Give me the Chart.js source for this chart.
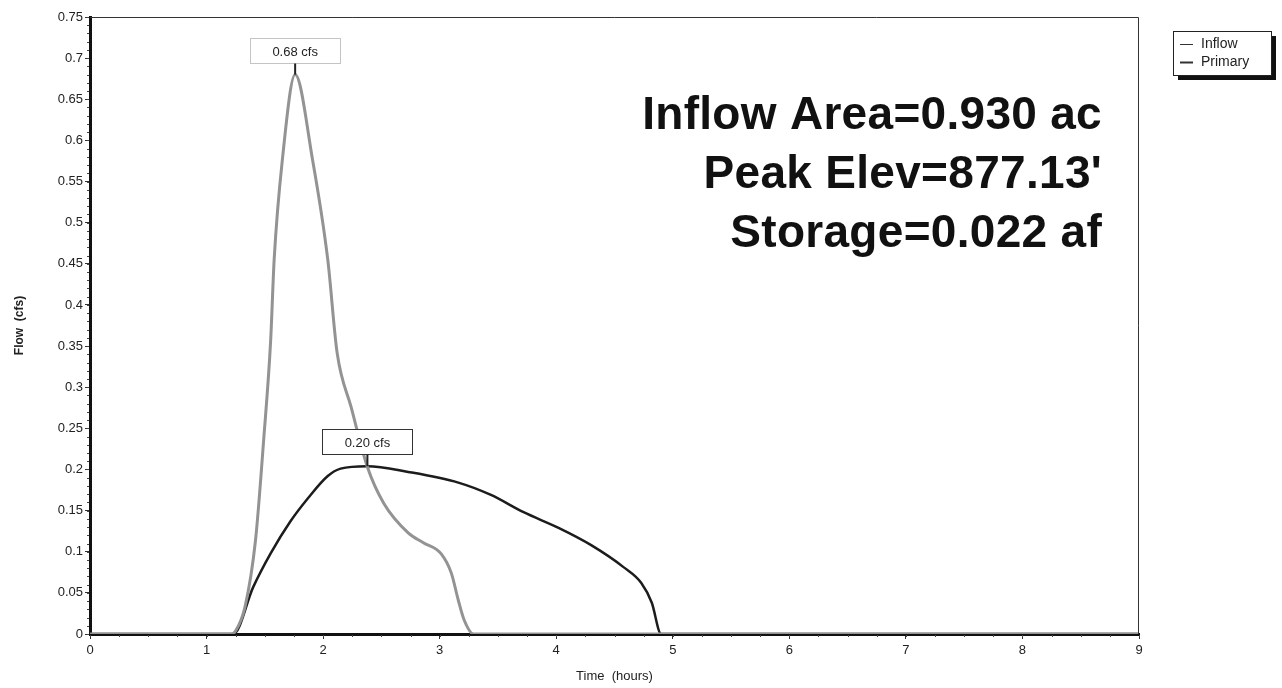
<!DOCTYPE html>
<html lang="en">
<head>
  <meta charset="UTF-8">
  <title>Hydrograph</title>
  <script src="https://cdn.jsdelivr.net/npm/chart.js"></script>
  <style>
    html, body { margin: 0; padding: 0; background: #fff; }
    #wrap { position: relative; width: 1282px; height: 688px; }
  </style>
</head>
<body>
  <div id="wrap"><canvas id="hydro" width="1282" height="688"></canvas></div>

  <script>
    // values (hours, cfs)
    var inflowTime = [0, 1.21, 1.25, 1.33, 1.42, 1.49, 1.55, 1.58, 1.65, 1.76, 1.91, 2.04, 2.12, 2.24, 2.38, 2.52, 2.73, 2.86, 3.01, 3.10, 3.16, 3.21, 3.29, 9];
    var inflowFlow = [0, 0, 0.004, 0.033, 0.114, 0.236, 0.357, 0.455, 0.576, 0.68, 0.576, 0.455, 0.342, 0.276, 0.203, 0.159, 0.123, 0.111, 0.098, 0.074, 0.041, 0.017, 0, 0];
    var primaryTime = [0, 1.23, 1.40, 1.55, 1.72, 1.87, 2.04, 2.15, 2.38, 2.73, 3.16, 3.44, 3.72, 4.02, 4.30, 4.58, 4.73, 4.82, 4.90, 9];
    var primaryFlow = [0, 0, 0.057, 0.098, 0.137, 0.165, 0.192, 0.201, 0.204, 0.197, 0.184, 0.169, 0.148, 0.129, 0.108, 0.081, 0.062, 0.038, 0, 0];

    var seriesNames = ['Inflow', 'Primary'];
    var infoLines = ['Inflow Area=0.930 ac', "Peak Elev=877.13'", 'Storage=0.022 af'];

    var FONT = 'Arial, "Liberation Sans", sans-serif';

    function toPoints(xs, ys) {
      return xs.map(function (x, i) { return { x: x, y: ys[i] }; });
    }

    function peakOf(xs, ys) {
      var k = 0;
      ys.forEach(function (v, i) { if (v > ys[k]) k = i; });
      return { x: xs[k], y: ys[k] };
    }

    // minor ticks, peak boxes, legend and the info text
    var extras = {
      id: 'extras',
      afterDraw: function (chart) {
        var ctx = chart.ctx;
        var a = chart.chartArea;
        var xs = chart.scales.x, ys = chart.scales.y;
        ctx.save();

        // thin frame top/right
        ctx.strokeStyle = '#333';
        ctx.lineWidth = 1;
        ctx.beginPath();
        ctx.moveTo(a.left, a.top + 0.5);
        ctx.lineTo(a.right - 0.5, a.top + 0.5);
        ctx.lineTo(a.right - 0.5, a.bottom);
        ctx.stroke();

        // minor ticks
        ctx.strokeStyle = '#444';
        ctx.beginPath();
        for (var v = 0; v <= 0.7501; v += 0.01) {
          var py = Math.round(ys.getPixelForValue(v)) + 0.5;
          ctx.moveTo(a.left - 3, py);
          ctx.lineTo(a.left - 1, py);
        }
        for (var t = 0; t <= 9.001; t += 0.25) {
          var px = Math.round(xs.getPixelForValue(t)) + 0.5;
          ctx.moveTo(px, a.bottom + 1);
          ctx.lineTo(px, a.bottom + 3);
        }
        ctx.stroke();

        // peak boxes
        var peaks = [peakOf(inflowTime, inflowFlow), peakOf(primaryTime, primaryFlow)];
        ctx.font = '13px ' + FONT;
        ctx.textAlign = 'center';
        ctx.textBaseline = 'middle';
        peaks.forEach(function (p, i) {
          var px = xs.getPixelForValue(p.x);
          var py = ys.getPixelForValue(p.y);
          var txt = p.y.toFixed(2) + ' cfs';
          var w = 90, h = 25;
          var bx = Math.round(px - w / 2) + 0.5, by = Math.round(py - 12 - h) + 0.5;
          ctx.fillStyle = '#fff';
          ctx.fillRect(bx, by, w, h);
          ctx.strokeStyle = i === 0 ? '#888' : '#333';
          ctx.setLineDash(i === 0 ? [1, 1] : []);
          ctx.lineWidth = 1;
          ctx.strokeRect(bx, by, w, h);
          ctx.setLineDash([]);
          ctx.strokeStyle = '#222';
          ctx.lineWidth = 2;
          ctx.beginPath();
          ctx.moveTo(px, by + h);
          ctx.lineTo(px, py);
          ctx.stroke();
          ctx.fillStyle = '#222';
          ctx.fillText(txt, px, by + h / 2 + 1);
        });

        // info text
        ctx.font = 'bold 46px ' + FONT;
        if ('letterSpacing' in ctx) ctx.letterSpacing = '0.3px';
        ctx.textAlign = 'right';
        ctx.textBaseline = 'alphabetic';
        ctx.fillStyle = '#111';
        infoLines.forEach(function (s, i) {
          ctx.fillText(s, 1102, 129 + i * 59);
        });
        if ('letterSpacing' in ctx) ctx.letterSpacing = '0px';

        // legend
        var lx = 1173, ly = 31, lw = 98, lh = 44;
        ctx.fillStyle = '#111';
        ctx.fillRect(lx + 5, ly + 5, lw, lh);
        ctx.fillStyle = '#fff';
        ctx.fillRect(lx, ly, lw, lh);
        ctx.strokeStyle = '#222';
        ctx.lineWidth = 1;
        ctx.strokeRect(lx + 0.5, ly + 0.5, lw, lh);
        ctx.font = '14px ' + FONT;
        ctx.textAlign = 'left';
        ctx.textBaseline = 'middle';
        seriesNames.forEach(function (n, i) {
          var yy = ly + 13 + i * 18;
          ctx.strokeStyle = '#333';
          ctx.lineWidth = i === 0 ? 1 : 2;
          ctx.beginPath();
          ctx.moveTo(lx + 7, yy + 0.5);
          ctx.lineTo(lx + 20, yy + 0.5);
          ctx.stroke();
          ctx.fillStyle = '#222';
          ctx.fillText(n, lx + 28, yy);
        });

        ctx.restore();
      }
    };

    var ctx = document.getElementById('hydro').getContext('2d');
    new Chart(ctx, {
      type: 'line',
      data: {
        datasets: [{
          label: seriesNames[0],
          data: toPoints(inflowTime, inflowFlow),
          borderColor: '#939393',
          borderWidth: 3,
          pointRadius: 0,
          cubicInterpolationMode: 'monotone'
        }, {
          label: seriesNames[1],
          data: toPoints(primaryTime, primaryFlow),
          borderColor: '#1c1c1c',
          borderWidth: 2.5,
          pointRadius: 0,
          cubicInterpolationMode: 'monotone'
        }]
      },
      options: {
        responsive: false,
        animation: false,
        layout: { padding: { left: 0, top: 17, right: 143, bottom: 0 } },
        plugins: {
          legend: { display: false },
          tooltip: { enabled: false }
        },
        scales: {
          x: {
            type: 'linear',
            min: 0,
            max: 9,
            afterFit: function (s) { s.height = 54; },
            border: { color: '#111', width: 3 },
            grid: { drawOnChartArea: false, tickLength: 5, color: '#333' },
            ticks: { stepSize: 1, color: '#222', padding: 4, font: { family: FONT, size: 13 } },
            title: { display: true, text: 'Time  (hours)', color: '#222', padding: { top: 2, bottom: 4 }, font: { family: FONT, size: 13 } }
          },
          y: {
            min: 0,
            max: 0.75,
            afterFit: function (s) { s.width = 90; },
            border: { color: '#111', width: 3 },
            grid: { drawOnChartArea: false, tickLength: 5, color: '#333' },
            ticks: {
              stepSize: 0.05, color: '#222', padding: 2, font: { family: FONT, size: 13 },
              callback: function (v) { return String(parseFloat(v.toFixed(2))); }
            },
            title: { display: true, text: 'Flow  (cfs)', color: '#222', padding: { top: 12, bottom: 0 }, font: { family: FONT, size: 12, weight: 'bold' } }
          }
        }
      },
      plugins: [extras]
    });
  </script>
</body>
</html>
